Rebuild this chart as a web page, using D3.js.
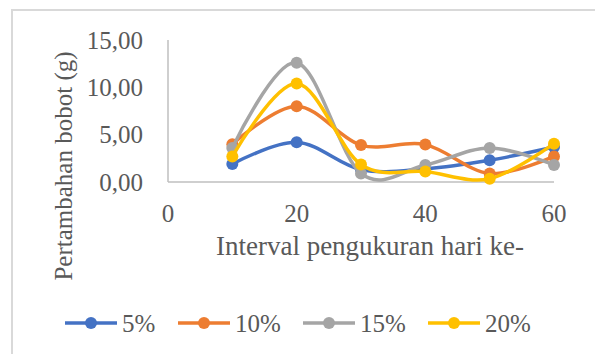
<!DOCTYPE html>
<html><head><meta charset="utf-8">
<script src="https://cdn.jsdelivr.net/npm/d3@7"></script>
<style>body{margin:0;background:#fff}svg{display:block}</style>
</head><body>
<script>
const days = [10, 20, 30, 40, 50, 60];
const s5  = [1.9, 4.2, 1.3, 1.4, 2.3, 3.7];
const s10 = [4.0, 8.0, 3.9, 3.95, 0.9, 2.7];
const s15 = [3.6, 12.6, 0.9, 1.8, 3.6, 1.8];
const s20 = [2.7, 10.4, 1.85, 1.1, 0.35, 4.05];
const seriesNames = ["5%", "10%", "15%", "20%"];
const seriesColors = ["#4472C4", "#ED7D31", "#A5A5A5", "#FFC000"];
const yTicks = [0, 5, 10, 15];
const xTicks = [0, 20, 40, 60];
const series = [s5, s10, s15, s20];

const FONT = "'Liberation Serif', 'Times New Roman', Times, 'DejaVu Serif', serif";
const W = 595, H = 354;
const svg = d3.select("body").append("svg").attr("width", W).attr("height", H)
  .style("font-family", FONT);

svg.append("path").attr("d", "M12,360 L12,10 L600,10").attr("fill", "none")
  .attr("stroke", "#d9d9d9").attr("stroke-width", 2);

const x = d3.scaleLinear().domain([0, 60]).range([168, 554]);
const y = d3.scaleLinear().domain([0, 15]).range([182, 40]);

svg.append("line").attr("x1", x(0)).attr("x2", x(0)).attr("y1", y(15)).attr("y2", y(0))
  .attr("stroke", "#bfbfbf").attr("stroke-width", 1.5);
svg.append("line").attr("x1", x(0)).attr("x2", x(60)).attr("y1", y(0)).attr("y2", y(0))
  .attr("stroke", "#bfbfbf").attr("stroke-width", 1.5);

function txt(sel) { return sel.attr("font-family", FONT).attr("fill", "#595959"); }

const fmt = v => v.toFixed(2).replace(".", ",");
txt(svg.selectAll(".yt").data(yTicks).enter().append("text"))
  .attr("x", 143).attr("y", d => y(d)).attr("dy", "0.35em")
  .attr("text-anchor", "end").attr("font-size", 25).text(fmt);
txt(svg.selectAll(".xt").data(xTicks).enter().append("text"))
  .attr("x", d => x(d)).attr("y", 213).attr("dy", "0.35em")
  .attr("text-anchor", "middle").attr("font-size", 25).text(d => d);

txt(svg.append("text")).attr("x", 370).attr("y", 246).attr("dy", "0.35em")
  .attr("text-anchor", "middle").attr("font-size", 27).text("Interval pengukuran hari ke-");
txt(svg.append("text")).attr("transform", "translate(63,166) rotate(-90)").attr("dy", "0.35em")
  .attr("text-anchor", "middle").attr("font-size", 25).text("Pertambahan bobot (g)");

const line = d3.line().x((d, i) => x(days[i])).y(d => y(d)).curve(d3.curveCardinal.tension(0));
series.forEach((s, k) => {
  svg.append("path").datum(s).attr("d", line).attr("fill", "none")
    .attr("stroke", seriesColors[k]).attr("stroke-width", 3.5).attr("stroke-linecap", "round");
  svg.selectAll(".m" + k).data(s).enter().append("circle")
    .attr("cx", (d, i) => x(days[i])).attr("cy", d => y(d)).attr("r", 6)
    .attr("fill", seriesColors[k]);
});

const legX = [65, 178, 303, 428];
seriesNames.forEach((n, k) => {
  const g = svg.append("g").attr("transform", `translate(${legX[k]},323)`);
  g.append("line").attr("x1", 0).attr("x2", 52).attr("stroke", seriesColors[k]).attr("stroke-width", 3.5);
  g.append("circle").attr("cx", 26).attr("r", 6).attr("fill", seriesColors[k]);
  txt(g.append("text")).attr("x", 57).attr("dy", "0.35em").attr("font-size", 25).text(n);
});
</script>
</body></html>
